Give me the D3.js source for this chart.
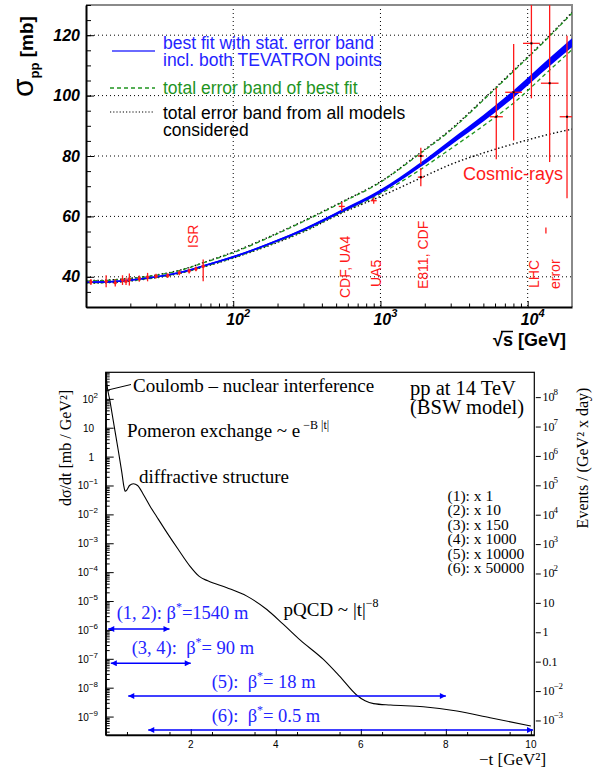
<!DOCTYPE html>
<html>
<head>
<meta charset="utf-8">
<title>pp total and elastic cross-section</title>
<script src="https://d3js.org/d3.v7.min.js"></script>
<style>
  body { margin: 0; background: #ffffff; }
  svg { display: block; }
  .sans { font-family: "Liberation Sans", Arial, sans-serif; }
  .serif { font-family: "Liberation Serif", "Times New Roman", serif; }
</style>
</head>
<body>
<div id="chart"></div>
<script>
// ================= top panel: sigma_pp versus sqrt(s) =================
// fit curves on one energy grid [GeV] -> sigma [mb]
var fitEnergy  = [10, 15, 20, 30, 45, 62.5, 100, 200, 300, 546, 1000, 1800, 3000, 5000, 8000, 14000, 20000];
var fitSigma   = [38.2, 38.4, 38.9, 40.0, 41.6, 43.6, 46.6, 52.0, 55.6, 61.8, 68.3, 76.5, 84.5, 92.5, 100.5, 111.0, 117.5];
var fitStatErr = [0.2, 0.2, 0.2, 0.2, 0.25, 0.25, 0.3, 0.35, 0.4, 0.5, 0.6, 0.75, 0.9, 1.05, 1.2, 1.35, 1.45];
var fitTotUp   = [38.6, 38.9, 39.4, 40.5, 42.3, 44.6, 48.0, 54.3, 58.3, 64.6, 71.3, 80.3, 88.5, 98.5, 108.0, 119.5, 127.3];
var fitTotDown = [38.0, 38.2, 38.7, 39.8, 41.4, 43.3, 46.3, 51.6, 55.1, 61.3, 67.5, 75.0, 82.4, 90.0, 97.5, 108.3, 115.2];
var modelsUp   = [38.7, 39.0, 39.5, 40.6, 42.4, 44.7, 48.2, 54.5, 58.5, 64.8, 71.5, 80.5, 88.8, 98.8, 108.3, 119.8, 127.6];
var modelsDown = [37.9, 38.1, 38.6, 39.7, 41.3, 43.2, 46.2, 51.4, 54.9, 61.1, 66.6, 72.3, 77.2, 81.0, 84.0, 87.2, 88.9];

// low energy (fixed target + ISR) measurements
var lowEnergy  = [10.8, 13.7, 15.8, 17.7, 18.7, 19.7, 23.0, 26.2, 29.9, 35.9, 43.0, 50.2, 55.8, 62.5];
var lowSigma   = [38.3, 38.5, 38.0, 38.9, 38.5, 39.1, 39.4, 39.9, 40.2, 40.4, 41.3, 41.9, 42.6, 43.5];
var lowErrUp   = [1.0, 2.0, 1.2, 1.6, 1.2, 2.0, 1.0, 1.4, 0.8, 0.8, 0.8, 0.8, 0.8, 2.2];
var lowErrDown = [1.0, 2.0, 1.2, 1.6, 1.2, 2.0, 1.0, 1.4, 0.8, 0.8, 0.8, 0.8, 0.8, 5.0];

// SPS collider and TEVATRON points
var colEnergy  = [546, 900, 1880, 1880];
var colSigma   = [63.3, 65.2, 73.0, 80.0];
var colErr     = [1.5, 1.0, 3.0, 2.7];

// cosmic-ray points
var cosEnergy  = [6120, 8030, 10600, 14100, 18500];
var cosEnergyLo = [5530, 7040, 9290, 12300, 16500];
var cosEnergyHi = [6780, 9150, 12100, 16200, 20700];
var cosSigma   = [93.0, 101.1, 117.3, 104.1, 93.0];
var cosErrUp   = [9.5, 16.0, 20.0, 30.0, 26.8];
var cosErrDown = [14.1, 16.0, 18.2, 26.1, 27.0];

// expected LHC error (illustration)
var lhcEnergy = [13300];
var lhcSigma  = [55.3];
var lhcErr    = [1.0];

var topMajorEnergy = [100, 1000, 10000];
var topExponents   = ["2", "3", "4"];
var topMajorSigma  = [40, 60, 80, 100, 120];
var expLabels = ["ISR", "CDF, UA4", "UA5", "E811, CDF", "LHC", "error"];

// ================= bottom panel: dsigma/dt versus -t =================
var tValues = [0.003, 0.02, 0.1, 0.2, 0.3, 0.38, 0.43, 0.46, 0.5, 0.56, 0.65, 0.75, 0.9, 1.04, 1.2, 1.44,
               1.7, 1.98, 2.2, 2.4, 2.85, 3.32, 3.79, 4.18, 4.57, 5.12, 5.5, 5.9, 6.1, 6.3, 6.7, 7.47,
               8.26, 9.04, 10.0];
var dsdtValues = [1600, 450, 85, 11.2, 1.5, 0.28, 0.089, 0.063, 0.071, 0.1, 0.115, 0.1, 0.045, 0.0195,
                  8.3e-3, 2.34e-3, 6.3e-4, 1.62e-4, 7.1e-5, 5.0e-5, 2.9e-5, 1.48e-5, 5.1e-6, 1.55e-6,
                  4.5e-7, 9.5e-8, 2.5e-8, 5.6e-9, 3.5e-9, 2.8e-9, 2.5e-9, 2.2e-9, 1.55e-9, 9.1e-10, 4.7e-10];

var leftDecades  = [-9, -8, -7, -6, -5, -4, -3, -2, -1, 0, 1, 2];
var rightDecades = [-3, -2, -1, 0, 1, 2, 3, 4, 5, 6, 7, 8];
var tMajor = [0, 2, 4, 6, 8, 10];

var runNames   = ["(1)", "(2)", "(3)", "(4)", "(5)", "(6)"];
var runFactors = ["1", "10", "150", "1000", "10000", "50000"];

var arrowNames = ["(1, 2):", "(3, 4):", "(5):", "(6):"];
var arrowBeta  = ["=1540 m", "= 90 m", "= 18 m", "= 0.5 m"];
var arrowTMin  = [0.06, 0.12, 0.53, 1.0];
var arrowTMax  = [1.5, 2.0, 8.0, 10.05];

// colours
var blue = "#0000ff";
var textBlue = "#2424ff";
var green = "#1f941f";
var red = "#ff1a1a";

var width = 595;
var height = 767;

var svg = d3.select("#chart")
            .append("svg")
            .attr("width", width)
            .attr("height", height);

drawTopPanel();
drawBottomPanel();

function drawTopPanel(){
	var left = 86, right = 572, top = 5, bottom = 307;

	var x = d3.scaleLog().domain([10, 20000]).range([left, right]);
	var y = d3.scaleLinear().domain([30, 130]).range([bottom, top]);

	var g = svg.append("g").attr("class", "sans");

	svg.append("clipPath").attr("id", "clipTop")
		.append("rect")
		.attr("x", left).attr("y", top)
		.attr("width", right - left).attr("height", bottom - top);

	// dotted grid
	g.selectAll("line.gridX")
		.data(topMajorEnergy)
		.enter().append("line")
		.attr("x1", function(d){ return x(d); })
		.attr("x2", function(d){ return x(d); })
		.attr("y1", top).attr("y2", bottom)
		.attr("stroke", "#000").attr("stroke-width", 1)
		.attr("stroke-dasharray", "1,3");

	g.selectAll("line.gridY")
		.data(topMajorSigma)
		.enter().append("line")
		.attr("x1", left).attr("x2", right)
		.attr("y1", function(d){ return y(d); })
		.attr("y2", function(d){ return y(d); })
		.attr("stroke", "#000").attr("stroke-width", 1)
		.attr("stroke-dasharray", "1,3");

	// grey frame on top and right
	g.append("path")
		.attr("d", "M" + left + "," + top + "H" + right + "V" + bottom)
		.attr("fill", "none").attr("stroke", "#8a8a8a").attr("stroke-width", 2);

	var plot = g.append("g").attr("clip-path", "url(#clipTop)");

	var rows = fitEnergy.map(function(e, i){
		return {e: e, s: fitSigma[i], err: fitStatErr[i], tu: fitTotUp[i], td: fitTotDown[i],
		        mu: modelsUp[i], md: modelsDown[i]};
	});

	function curveFor(key){
		return d3.line()
			.x(function(d){ return x(d.e); })
			.y(function(d){ return y(d[key]); })
			.curve(d3.curveMonotoneX);
	}

	// total error band from all models (black dotted)
	["mu", "md"].forEach(function(k){
		plot.append("path").datum(rows)
			.attr("d", curveFor(k))
			.attr("fill", "none").attr("stroke", "#000")
			.attr("stroke-width", 1.4).attr("stroke-dasharray", "1.4,2.4");
	});

	// total error band of best fit (green dashed)
	["tu", "td"].forEach(function(k){
		plot.append("path").datum(rows)
			.attr("d", curveFor(k))
			.attr("fill", "none").attr("stroke", green)
			.attr("stroke-width", 1.3).attr("stroke-dasharray", "4,3");
	});

	// best fit with stat. error band
	var band = d3.area()
		.x(function(d){ return x(d.e); })
		.y0(function(d){ return y(d.s - d.err); })
		.y1(function(d){ return y(d.s + d.err); })
		.curve(d3.curveMonotoneX);

	plot.append("path").datum(rows)
		.attr("d", band)
		.attr("fill", blue);

	plot.append("path").datum(rows)
		.attr("d", curveFor("s"))
		.attr("fill", "none").attr("stroke", blue).attr("stroke-width", 1.6);

	// low energy points
	var low = lowEnergy.map(function(e, i){
		return {e: e, s: lowSigma[i], up: lowErrUp[i], dn: lowErrDown[i]};
	});
	plot.selectAll("line.lowErr")
		.data(low).enter().append("line")
		.attr("x1", function(d){ return x(d.e); })
		.attr("x2", function(d){ return x(d.e); })
		.attr("y1", function(d){ return y(d.s + d.up); })
		.attr("y2", function(d){ return y(d.s - d.dn); })
		.attr("stroke", red).attr("stroke-width", 1.3);
	plot.selectAll("circle.low")
		.data(low).enter().append("circle")
		.attr("cx", function(d){ return x(d.e); })
		.attr("cy", function(d){ return y(d.s); })
		.attr("r", 1.7)
		.attr("fill", red);

	// collider points
	var col = colEnergy.map(function(e, i){
		return {e: e, s: colSigma[i], err: colErr[i]};
	});
	plot.selectAll("line.colErr")
		.data(col).enter().append("line")
		.attr("x1", function(d){ return x(d.e); })
		.attr("x2", function(d){ return x(d.e); })
		.attr("y1", function(d){ return y(d.s + d.err); })
		.attr("y2", function(d){ return y(d.s - d.err); })
		.attr("stroke", red).attr("stroke-width", 1.3);
	plot.selectAll("line.colCap")
		.data(col).enter().append("line")
		.attr("x1", function(d){ return x(d.e) - 3; })
		.attr("x2", function(d){ return x(d.e) + 3; })
		.attr("y1", function(d){ return y(d.s); })
		.attr("y2", function(d){ return y(d.s); })
		.attr("stroke", red).attr("stroke-width", 1.3);

	// cosmic ray points
	var cos = cosEnergy.map(function(e, i){
		return {e: e, lo: cosEnergyLo[i], hi: cosEnergyHi[i], s: cosSigma[i], up: cosErrUp[i], dn: cosErrDown[i]};
	});
	plot.selectAll("line.cosV")
		.data(cos).enter().append("line")
		.attr("x1", function(d){ return x(d.e); })
		.attr("x2", function(d){ return x(d.e); })
		.attr("y1", function(d){ return y(d.s + d.up); })
		.attr("y2", function(d){ return y(d.s - d.dn); })
		.attr("stroke", red).attr("stroke-width", 1.3);
	plot.selectAll("line.cosH")
		.data(cos).enter().append("line")
		.attr("x1", function(d){ return x(d.lo); })
		.attr("x2", function(d){ return x(d.hi); })
		.attr("y1", function(d){ return y(d.s); })
		.attr("y2", function(d){ return y(d.s); })
		.attr("stroke", red).attr("stroke-width", 1.3);
	plot.selectAll("rect.cosDot")
		.data(cos.concat(col.slice(2))).enter().append("rect")
		.attr("x", function(d){ return x(d.e) - 1; })
		.attr("y", function(d){ return y(d.s) - 1; })
		.attr("width", 2).attr("height", 2)
		.attr("fill", "#000");

	// LHC error illustration
	plot.selectAll("line.lhc")
		.data(lhcEnergy).enter().append("line")
		.attr("x1", function(d){ return x(d); })
		.attr("x2", function(d){ return x(d); })
		.attr("y1", function(d, i){ return y(lhcSigma[i] + lhcErr[i]); })
		.attr("y2", function(d, i){ return y(lhcSigma[i] - lhcErr[i]); })
		.attr("stroke", red).attr("stroke-width", 1.3);

	// axes, ticks pointing inwards
	var minorE = [];
	[10, 100, 1000, 10000].forEach(function(dec){
		for (var m = 2; m <= 9; m++){ if (m * dec < 20000) minorE.push(m * dec); }
	});
	var minorS = d3.range(30, 131, 5);

	var xAxis = g.append("g").attr("transform", "translate(0," + bottom + ")");
	xAxis.call(d3.axisBottom(x).tickValues(minorE).tickSize(-3.5).tickSizeOuter(0).tickFormat(function(){ return ""; }));
	xAxis.append("g").call(d3.axisBottom(x).tickValues(topMajorEnergy).tickSize(-6).tickSizeOuter(0).tickFormat(function(){ return ""; }))
		.select(".domain").remove();

	var yAxis = g.append("g").attr("transform", "translate(" + left + ",0)");
	yAxis.call(d3.axisLeft(y).tickValues(minorS).tickSize(-5).tickSizeOuter(0).tickFormat(function(){ return ""; }));
	yAxis.append("g").call(d3.axisLeft(y).tickValues(topMajorSigma).tickSize(-8).tickSizeOuter(0).tickFormat(function(){ return ""; }))
		.select(".domain").remove();

	g.selectAll(".domain").attr("stroke", "#000").attr("stroke-width", 2);
	g.selectAll(".tick line").attr("stroke", "#000").attr("stroke-width", 1);

	// tick labels
	g.selectAll("text.yLab")
		.data(topMajorSigma).enter().append("text")
		.attr("x", 80)
		.attr("y", function(d){ return y(d) + 5.5; })
		.attr("text-anchor", "end")
		.attr("font-size", 16).attr("font-weight", "bold").attr("font-style", "italic")
		.text(function(d){ return d; });

	var xl = g.selectAll("text.xLab")
		.data(topMajorEnergy).enter().append("text")
		.attr("x", function(d){ return x(d) - 7; })
		.attr("y", 325)
		.attr("font-size", 16).attr("font-weight", "bold").attr("font-style", "italic");
	xl.append("tspan").text("10");
	xl.append("tspan").attr("font-size", 11).attr("dy", -8)
		.text(function(d, i){ return topExponents[i]; });

	// axis titles
	var yt = g.append("text")
		.attr("transform", "translate(33,97) rotate(-90)");
	yt.append("tspan").attr("font-size", 30).text("\u03C3");
	yt.append("tspan").attr("font-size", 13).attr("font-weight", "bold").attr("dy", 6).text("pp");
	yt.append("tspan").attr("font-size", 19).attr("font-weight", "bold").attr("dy", -6).text(" [mb]");

	g.append("text")
		.attr("x", 493).attr("y", 346)
		.attr("font-size", 18).attr("font-weight", "bold")
		.text("\u221As [GeV]");
	g.append("line")
		.attr("x1", 501).attr("x2", 513).attr("y1", 331.5).attr("y2", 331.5)
		.attr("stroke", "#000").attr("stroke-width", 1.5);

	// experiment labels (rotated)
	var labelPos = [[198, 248], [350, 298], [380.5, 287], [428, 289], [539, 288], [560, 289]];
	g.selectAll("text.exp")
		.data(expLabels).enter().append("text")
		.attr("transform", function(d, i){ return "translate(" + labelPos[i][0] + "," + labelPos[i][1] + ") rotate(-90)"; })
		.attr("font-size", 14).attr("fill", red)
		.text(function(d){ return d; });

	g.append("text")
		.attr("x", 463).attr("y", 179.5)
		.attr("font-size", 18).attr("fill", red)
		.text("Cosmic-rays");

	// legend
	g.append("line").attr("x1", 112).attr("x2", 155).attr("y1", 51).attr("y2", 51)
		.attr("stroke", "#6a6aff").attr("stroke-width", 2);
	g.append("line").attr("x1", 110).attr("x2", 155).attr("y1", 88).attr("y2", 88)
		.attr("stroke", green).attr("stroke-width", 1.3).attr("stroke-dasharray", "4,3");
	g.append("line").attr("x1", 110).attr("x2", 153).attr("y1", 112).attr("y2", 112)
		.attr("stroke", "#000").attr("stroke-width", 1.2).attr("stroke-dasharray", "1.2,2");

	var legendText = [
		["best fit with stat. error band", 49, textBlue],
		["incl. both TEVATRON points", 66, textBlue],
		["total error band of best fit", 94, green],
		["total error band from all models", 119, "#000"],
		["considered", 136, "#000"]
	];
	g.selectAll("text.leg")
		.data(legendText).enter().append("text")
		.attr("x", 163)
		.attr("y", function(d){ return d[1]; })
		.attr("font-size", 17.5)
		.attr("fill", function(d){ return d[2]; })
		.text(function(d){ return d[0]; });
}

function drawBottomPanel(){
	var left = 105.7, right = 534.3, top = 372.3, bottom = 735;

	var x = d3.scaleLinear().domain([0, 10.08]).range([left, right]);
	var y = d3.scaleLog().domain([2.3e-10, 830]).range([bottom, top]);
	var yEvents = d3.scaleLog().domain([3.2e-4, 7e8]).range([bottom, top]);

	var g = svg.append("g").attr("class", "serif");

	svg.append("clipPath").attr("id", "clipBottom")
		.append("rect")
		.attr("x", left).attr("y", top)
		.attr("width", right - left).attr("height", bottom - top);

	// frame
	g.append("rect")
		.attr("x", left).attr("y", top)
		.attr("width", right - left).attr("height", bottom - top)
		.attr("fill", "none").attr("stroke", "#000").attr("stroke-width", 1.2);

	// the elastic curve
	var pts = tValues.map(function(t, i){ return {t: t, v: dsdtValues[i]}; });
	g.append("g").attr("clip-path", "url(#clipBottom)")
		.append("path").datum(pts)
		.attr("d", d3.line()
			.x(function(d){ return x(d.t); })
			.y(function(d){ return y(d.v); })
			.curve(d3.curveMonotoneX))
		.attr("fill", "none").attr("stroke", "#000").attr("stroke-width", 1.1);

	// left axis: decades + minor ticks
	var minorV = [];
	for (var k = -10; k <= 2; k++){
		for (var m = 2; m <= 9; m++){
			var v = m * Math.pow(10, k);
			if (v > 2.3e-10 && v < 830) minorV.push(v);
		}
	}
	var decV = leftDecades.map(function(k){ return Math.pow(10, k); });

	var la = g.append("g").attr("class", "sans").attr("transform", "translate(" + left + ",0)");
	la.call(d3.axisLeft(y).tickValues(minorV).tickSize(-4).tickSizeOuter(0).tickFormat(function(){ return ""; }));
	la.append("g").call(d3.axisLeft(y).tickValues(decV).tickSize(-8).tickSizeOuter(0).tickFormat(function(){ return ""; }))
		.select(".domain").remove();

	// bottom axis
	var ba = g.append("g").attr("class", "sans").attr("transform", "translate(0," + bottom + ")");
	ba.call(d3.axisBottom(x).tickValues(d3.range(0.5, 10.01, 1)).tickSize(-3).tickSizeOuter(0).tickFormat(function(){ return ""; }));
	ba.append("g").call(d3.axisBottom(x).tickValues(tMajor).tickSize(-6).tickSizeOuter(0).tickFormat(function(){ return ""; }))
		.select(".domain").remove();

	// right axis: events per day
	var rv = rightDecades.map(function(k){ return Math.pow(10, k); });
	var ra = g.append("g").attr("transform", "translate(" + (right + 1.5) + ",0)");
	ra.call(d3.axisRight(yEvents).tickValues(rv).tickSize(5).tickSizeOuter(0).tickFormat(function(){ return ""; }))
		.select(".domain").remove();

	g.selectAll(".domain").attr("stroke", "#000").attr("stroke-width", 1.4);
	g.selectAll(".tick line").attr("stroke", "#000").attr("stroke-width", 1);

	// left tick labels
	var ll = g.selectAll("text.lLab")
		.data(leftDecades).enter().append("text")
		.attr("class", "sans")
		.attr("x", function(d){ return (d === 0 || d === 1) ? 94 : 98; })
		.attr("y", function(d){ return y(Math.pow(10, d)) + 4; })
		.attr("text-anchor", "end")
		.attr("font-size", 10);
	ll.append("tspan").text(function(d){ return d === 0 ? "1" : "10"; });
	ll.filter(function(d){ return d !== 0 && d !== 1; })
		.append("tspan").attr("font-size", 8).attr("dy", -5)
		.text(function(d){ return String(d).replace("-", "\u2212"); });

	// right tick labels
	var rl = g.selectAll("text.rLab")
		.data(rightDecades).enter().append("text")
		.attr("x", 542.5)
		.attr("y", function(d){ return yEvents(Math.pow(10, d)) + 4; })
		.attr("font-size", 12);
	rl.append("tspan").text(function(d){ return d === 0 ? "1" : (d === -1 ? "0.1" : "10"); });
	rl.filter(function(d){ return d < -1 || d > 1; })
		.append("tspan").attr("font-size", 9).attr("dy", -6).attr("dx", -1)
		.text(function(d){ return String(d).replace("-", "\u2212"); });

	// bottom tick labels
	g.selectAll("text.bLab")
		.data(tMajor.slice(1)).enter().append("text")
		.attr("class", "sans")
		.attr("x", function(d){ return x(d); })
		.attr("y", 748)
		.attr("text-anchor", "middle")
		.attr("font-size", 10)
		.text(function(d){ return d; });

	// axis titles
	g.append("text")
		.attr("transform", "translate(71,448) rotate(-90)")
		.attr("text-anchor", "middle").attr("font-size", 16)
		.text("d\u03C3/dt [mb / GeV\u00B2]");
	g.append("text")
		.attr("transform", "translate(588,458) rotate(-90)")
		.attr("text-anchor", "middle").attr("font-size", 16)
		.text("Events / (GeV\u00B2 x day)");
	g.append("text")
		.attr("x", 479).attr("y", 764.5).attr("font-size", 17)
		.text("\u2212t [GeV\u00B2]");

	// annotations
	g.append("line")
		.attr("x1", 108).attr("y1", 390).attr("x2", 131).attr("y2", 384.5)
		.attr("stroke", "#000").attr("stroke-width", 1);
	g.append("text").attr("x", 133).attr("y", 391.5).attr("font-size", 19)
		.text("Coulomb \u2013 nuclear interference");

	var pom = g.append("text").attr("x", 127).attr("y", 436.5).attr("font-size", 19);
	pom.append("tspan").text("Pomeron exchange ~ e");
	pom.append("tspan").attr("font-size", 12).attr("dy", -8).text(" \u2212B |t|");

	g.append("text").attr("x", 139).attr("y", 482.5).attr("font-size", 19)
		.text("diffractive structure");

	var qcd = g.append("text").attr("x", 283.5).attr("y", 616).attr("font-size", 19);
	qcd.append("tspan").text("pQCD ~ |t|");
	qcd.append("tspan").attr("font-size", 12).attr("dy", -9).text("\u22128");

	g.append("text").attr("x", 410).attr("y", 395).attr("font-size", 20.5).text("pp at 14 TeV");
	g.append("text").attr("x", 410).attr("y", 413.5).attr("font-size", 20.5).text("(BSW model)");

	// scale factors of the event axis
	g.selectAll("text.run")
		.data(runNames).enter().append("text")
		.attr("x", 447.5)
		.attr("y", function(d, i){ return 501 + i * 14.4; })
		.attr("font-size", 15.5)
		.text(function(d, i){ return d + ": x " + runFactors[i]; });

	// beta* arrows
	var defs = svg.append("defs");
	defs.append("marker")
		.attr("id", "arrowHead")
		.attr("viewBox", "0 0 10 10")
		.attr("refX", 10).attr("refY", 5)
		.attr("markerUnits", "userSpaceOnUse")
		.attr("markerWidth", 9).attr("markerHeight", 6)
		.attr("orient", "auto-start-reverse")
		.append("path").attr("d", "M0,0L10,5L0,10z").attr("fill", blue);

	var arrowY = [629, 663.3, 696, 730];
	var textPos = [[116.7, 618.5], [131.7, 654], [211.7, 687.7], [211.7, 722.3]];

	g.selectAll("line.arrow")
		.data(arrowNames).enter().append("line")
		.attr("x1", function(d, i){ return x(arrowTMin[i]); })
		.attr("x2", function(d, i){ return x(arrowTMax[i]); })
		.attr("y1", function(d, i){ return arrowY[i]; })
		.attr("y2", function(d, i){ return arrowY[i]; })
		.attr("stroke", blue).attr("stroke-width", 1.4)
		.attr("marker-start", "url(#arrowHead)")
		.attr("marker-end", "url(#arrowHead)");

	var at = g.selectAll("text.arrowLab")
		.data(arrowNames).enter().append("text")
		.attr("x", function(d, i){ return textPos[i][0]; })
		.attr("y", function(d, i){ return textPos[i][1]; })
		.attr("font-size", 18.5).attr("fill", textBlue);
	at.append("tspan").text(function(d, i){ return d + (i === 0 ? " " : "\u00A0 ") + "\u03B2"; });
	at.append("tspan").attr("font-size", 12).attr("dy", -8).text("*");
	at.append("tspan").attr("dy", 8).text(function(d, i){ return arrowBeta[i]; });
}
</script>
</body>
</html>
